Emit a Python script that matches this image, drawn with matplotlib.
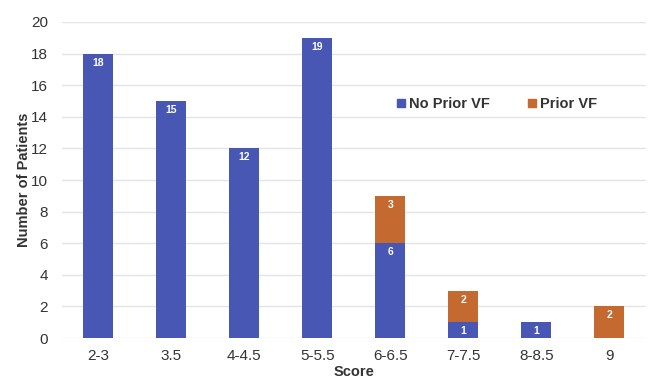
import numpy as np
import matplotlib as mpl
mpl.use("Agg")
import matplotlib.pyplot as plt
from matplotlib.patches import Patch

mpl.rcParams.update({
    "font.family": ["Liberation Sans", "DejaVu Sans"],
    "axes.spines.top": False,
    "axes.spines.right": False,
    "axes.spines.left": False,
    "axes.spines.bottom": False,
})

# data
categories = ["2-3", "3.5", "4-4.5", "5-5.5", "6-6.5", "7-7.5", "8-8.5", "9"]
no_prior_vf = [18, 15, 12, 19, 6, 1, 1, 0]
prior_vf = [0, 0, 0, 0, 3, 2, 0, 2]

BLUE = "#4757b3"
ORANGE = "#c4692f"

fig = plt.figure(figsize=(6.51, 3.79), dpi=100)
ax = fig.add_axes([0.095, 0.108, 0.897, 0.834])

x = np.arange(len(categories))
w = 0.41
b1 = ax.bar(x, no_prior_vf, width=w, color=BLUE, zorder=3)
b2 = ax.bar(x, prior_vf, width=w, bottom=no_prior_vf, color=ORANGE, zorder=3)

# value labels near top of each segment
for bars, vals, base in ((b1, no_prior_vf, [0] * len(x)), (b2, prior_vf, no_prior_vf)):
    for bar, v, b in zip(bars, vals, base):
        if v == 0:
            continue
        ax.text(bar.get_x() + bar.get_width() / 2, b + v - 0.25, str(v),
                ha="center", va="top", color="white", fontsize=7.5, fontweight="bold",
                zorder=4)

ax.set_xlim(-0.5, len(categories) - 0.5)
ax.set_ylim(0, 20)
ax.set_yticks(np.arange(0, 21, 2))
ax.set_xticks(x)
ax.set_xticklabels(categories)
ax.tick_params(axis="both", length=0, labelsize=11, colors="#333333")
ax.tick_params(axis="x", pad=8)
ax.tick_params(axis="y", pad=10)
ax.yaxis.grid(True, color="#e4e4e4", linewidth=1.0, zorder=0)
ax.set_axisbelow(True)

ax.set_ylabel("Number of Patients", fontsize=10.5, fontweight="bold", color="#333333", labelpad=0)
ax.set_xlabel("Score", fontsize=10.5, fontweight="bold", color="#333333", labelpad=1)

handles = [Patch(color=BLUE, label="No Prior VF"), Patch(color=ORANGE, label="Prior VF")]
ax.legend(handles=handles, ncol=2, frameon=False, loc="center",
          bbox_to_anchor=(0.745, 0.74), handlelength=0.55, handleheight=0.55,
          handletextpad=0.3, columnspacing=2.6,
          prop={"size": 10.5, "weight": "bold"}, labelcolor="#333333")

fig.savefig("out.png", dpi=100)
